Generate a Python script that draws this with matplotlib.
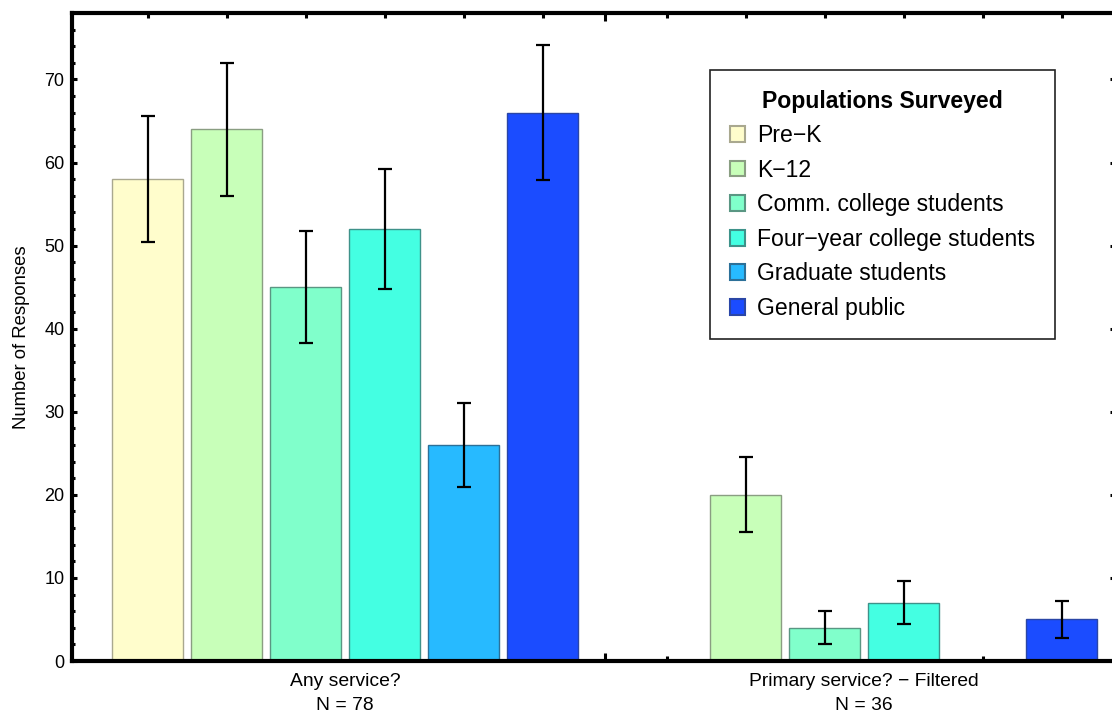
import numpy as np
import matplotlib
matplotlib.use("Agg")
import matplotlib.pyplot as plt
from matplotlib.patches import Patch

plt.rcParams['font.family'] = ['Liberation Sans', 'DejaVu Sans']

# --- data -------------------------------------------------------------
populations = ["Pre−K", "K−12", "Comm. college students",
               "Four−year college students", "Graduate students", "General public"]
group_labels = ["Any service?\nN = 78", "Primary service? − Filtered\nN = 36"]

any_service = [58, 64, 45, 52, 26, 66]
any_service_err = [7.6, 8.0, 6.7, 7.2, 5.1, 8.1]

primary_service = [0, 20, 4, 7, 0, 5]
primary_service_err = [0, 4.5, 2.0, 2.6, 0, 2.2]

face_colors = ["#FFFDCC", "#C8FFB9", "#80FFCB", "#44FFE2", "#27BAFF", "#1B4CFF"]
edge_colors = ["#A9A88F", "#8A9E82", "#5A9683", "#3E928A", "#2C7098", "#2A46A6"]

# --- layout -----------------------------------------------------------
W, H = 1112, 715
fig = plt.figure(figsize=(W / 100, H / 100), dpi=100)
ax = fig.add_axes([72 / W, 54 / H, (1115 - 72) / W, (661 - 13) / H])

bar_w = 0.9
group_offset = 6.57
x1 = np.arange(len(populations), dtype=float)
x2 = x1 + group_offset

groups = [(x1, any_service, any_service_err), (x2, primary_service, primary_service_err)]
for xs, vals, errs in groups:
    for xi, v, e, fc, ec in zip(xs, vals, errs, face_colors, edge_colors):
        if v <= 0:
            continue
        ax.bar(xi, v, width=bar_w, color=fc, edgecolor=ec, linewidth=1.0, zorder=2)
        ax.errorbar(xi, v, yerr=e, fmt='none', ecolor='black', elinewidth=1.6,
                    capsize=4.7, capthick=1.6, zorder=3)

ax.set_xlim(-0.956, 12.245)
ax.set_ylim(0, 78)

# frame
for side in ['left', 'bottom', 'top', 'right']:
    ax.spines[side].set_linewidth(3)
    ax.spines[side].set_color('black')

# y ticks
ax.set_yticks(np.arange(0, 71, 10))
ax.set_yticks(np.arange(0, 78, 2), minor=True)
ax.tick_params(axis='y', which='major', direction='in', length=3.8, width=2.2,
               labelsize=13, pad=5.5, right=True, left=True)
ax.tick_params(axis='y', which='minor', direction='in', length=2.4, width=2.2,
               right=True, left=True)

# x ticks: one per bar, plus a longer tick between the two groups
ax.set_xticks(np.concatenate([x1, x2]))
ax.set_xticklabels([])
ax.set_xticks([(x1[-1] + x2[0]) / 2], minor=True)
ax.tick_params(axis='x', which='major', direction='in', length=3.6, width=2.2,
               top=True, bottom=True)
ax.tick_params(axis='x', which='minor', direction='in', length=5.8, width=2.2,
               top=True, bottom=True)

centers = [x1.mean(), x2.mean()]
for cx, lab in zip(centers, group_labels):
    ax.text(cx, -0.019, lab, transform=ax.get_xaxis_transform(), ha='center',
            va='top', fontsize=13.9, linespacing=1.48)

ax.set_ylabel("Number of Responses", fontsize=13.3, labelpad=10)

# legend
handles = [Patch(facecolor=fc, edgecolor=ec, linewidth=1.5)
           for fc, ec in zip(face_colors, edge_colors)]
leg = ax.legend(handles, populations, title="Populations Surveyed",
                loc='upper left', bbox_to_anchor=(710 / W, 1 - 70 / H),
                bbox_transform=fig.transFigure, fontsize=16.6,
                title_fontproperties={'weight': 'bold', 'size': 16.6},
                frameon=True, fancybox=False, framealpha=1, edgecolor='#222222',
                borderpad=0.85, handlelength=0.68, handleheight=0.68,
                handletextpad=0.5, labelspacing=0.50, borderaxespad=0)
leg.get_frame().set_linewidth(1.2)
leg.set_zorder(5)

fig.savefig("out.png", dpi=100)
